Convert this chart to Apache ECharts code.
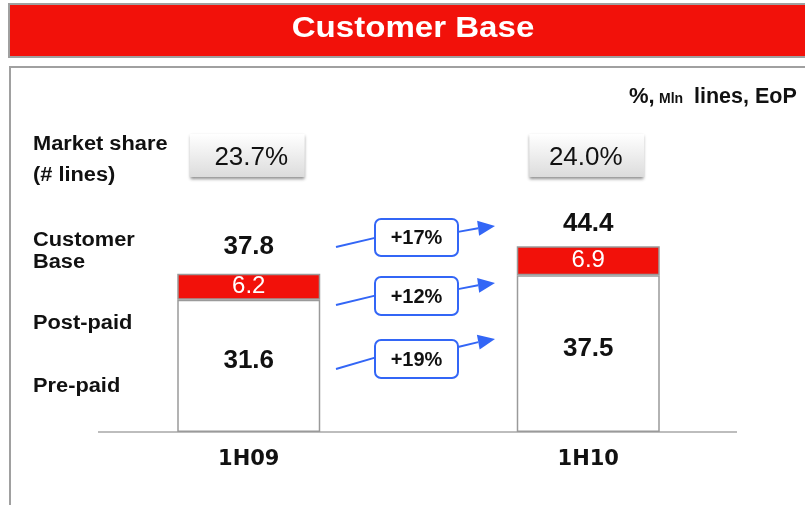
<!DOCTYPE html>
<html>
<head>
<meta charset="utf-8">
<script src="https://cdn.jsdelivr.net/npm/echarts@6/dist/echarts.min.js"></script>
<style>
  html, body { margin: 0; padding: 0; background: #fff; }
  #chart { width: 805px; height: 505px; }
</style>
</head>
<body>
<div id="chart"></div>
<script>
const categories = ["1H09", "1H10"];
const prePaid = [31.6, 37.5];
const postPaid = [6.2, 6.9];
const totals = [37.8, 44.4];
const marketShare = ["23.7%", "24.0%"];
const growth = ["+17%", "+12%", "+19%"];

const RED = "#f2110a";
const BLUE = "#3366f6";
const SANS = "'Liberation Sans', Arial, sans-serif";
const WIDE = "'DejaVu Sans', sans-serif";

const chart = echarts.init(document.getElementById("chart"));

chart.setOption({
  animation: false,
  grid: { left: 79, right: 47, top: 181, bottom: 73 },
  xAxis: {
    type: "category",
    data: categories,
    axisLine: { show: false },
    axisTick: { show: false },
    axisLabel: { fontSize: 21, fontWeight: "bold", color: "#111", fontFamily: WIDE, margin: 17 }
  },
  yAxis: { type: "value", min: 0, max: 60, show: false },
  series: [
    {
      name: "Pre-paid",
      type: "bar",
      stack: "base",
      barWidth: 143,
      data: prePaid,
      itemStyle: { color: "#fff", borderColor: "#9a9a9a", borderWidth: 1.5 },
      label: {
        show: true, position: "inside", offset: [0, -5],
        fontSize: 26, fontWeight: "bold", color: "#111", fontFamily: SANS
      },
      z: 3
    },
    {
      name: "Post-paid",
      type: "bar",
      stack: "base",
      barWidth: 143,
      data: postPaid,
      itemStyle: { color: RED, borderColor: "#9a9a9a", borderWidth: 1.5 },
      label: {
        show: true, position: "inside",
        fontSize: 24, color: "#fff", fontFamily: SANS
      },
      z: 3
    },
    {
      name: "Total",
      type: "bar",
      barWidth: 143,
      barGap: "-100%",
      silent: true,
      data: totals.map((v, i) => ({
        value: v,
        label: { distance: i === 0 ? 14 : 9 }
      })),
      itemStyle: { color: "rgba(0,0,0,0)" },
      label: {
        show: true, position: "top",
        fontSize: 26, fontWeight: "bold", color: "#111", fontFamily: SANS
      },
      z: 2
    }
  ]
});

const xs = categories.map(c => chart.convertToPixel({ xAxisIndex: 0 }, c));
const g = [];

// title banner
g.push({
  type: "rect", shape: { x: 9, y: 4, width: 810, height: 53 },
  style: { fill: RED, stroke: "#a0a0a0", lineWidth: 2 }, z: 1
});
g.push({
  type: "text", x: 413, y: 28.5, scaleX: 1.14,
  style: {
    text: "Customer Base", fill: "#fff", font: "bold 29px " + SANS,
    align: "center", verticalAlign: "middle"
  }, z: 2
});
// panel
g.push({
  type: "rect", shape: { x: 10, y: 67, width: 810, height: 460 },
  style: { fill: "none", stroke: "#a0a0a0", lineWidth: 2 }, z: 0
});
// unit note
[["%,", 629, 97, 22], ["Mln", 659, 99, 14], ["lines, EoP", 694, 97, 21.5]].forEach(([t, x, y, s]) => g.push({
  type: "text", x: x, y: y,
  style: { text: t, font: "bold " + s + "px " + SANS, fill: "#111", verticalAlign: "middle" }
}));
// row labels
const rowLabels = [
  ["Market share", 144.5], ["(# lines)", 175],
  ["Customer", 240], ["Base", 262],
  ["Post-paid", 323], ["Pre-paid", 386]
];
rowLabels.forEach(([t, y]) => g.push({
  type: "text", x: 33, y: y, scaleX: 1.09,
  style: { text: t, font: "bold 20px " + SANS, fill: "#111", verticalAlign: "middle" }
}));
// baseline
g.push({
  type: "line", shape: { x1: 98, y1: 432, x2: 737, y2: 432 },
  style: { stroke: "#bdbdbd", lineWidth: 2 }, z: 1
});
// market share boxes
const shareTextShift = [4, -1];
xs.forEach((x, i) => {
  g.push({
    type: "rect", shape: { x: x - 59, y: 134, width: 115, height: 43 },
    style: {
      fill: new echarts.graphic.LinearGradient(0, 0, 0, 1, [
        { offset: 0, color: "#ffffff" }, { offset: 1, color: "#dcdcdc" }
      ]),
      shadowColor: "rgba(0,0,0,0.45)", shadowBlur: 3, shadowOffsetY: 2
    }
  });
  g.push({
    type: "text", x: x - 1.5 + shareTextShift[i], y: 158,
    style: {
      text: marketShare[i], font: "26px " + SANS, fill: "#111",
      align: "center", verticalAlign: "middle"
    }
  });
});
// growth arrows
const arrows = [
  { y0: 247, y1: 226, top: 219, bottom: 256 },
  { y0: 305, y1: 283, top: 277, bottom: 315 },
  { y0: 369, y1: 339, top: 340, bottom: 378 }
];
arrows.forEach((a, i) => {
  const x0 = 336, x1 = 495, bl = 375, br = 458;
  const yAt = x => a.y0 + (a.y1 - a.y0) * (x - x0) / (x1 - x0);
  const ang = Math.atan2(a.y1 - yAt(br), x1 - br);
  const L = 17, W = 7.5;
  const bx = x1 - L * Math.cos(ang), by = a.y1 - L * Math.sin(ang);
  g.push({ type: "line", shape: { x1: x0, y1: a.y0, x2: bl, y2: yAt(bl) - 4 },
    style: { stroke: BLUE, lineWidth: 2 } });
  g.push({ type: "line", shape: { x1: br, y1: yAt(br) + 1, x2: bx, y2: by },
    style: { stroke: BLUE, lineWidth: 2 } });
  g.push({ type: "polygon", shape: { points: [
      [x1, a.y1],
      [bx + W * Math.sin(ang), by - W * Math.cos(ang)],
      [bx - W * Math.sin(ang), by + W * Math.cos(ang)]
    ] }, style: { fill: BLUE } });
  g.push({
    type: "rect", shape: { x: bl, y: a.top, width: br - bl, height: a.bottom - a.top, r: 6 },
    style: { fill: "#fff", stroke: BLUE, lineWidth: 2 }
  });
  g.push({
    type: "text", x: (bl + br) / 2, y: (a.top + a.bottom) / 2 + 1,
    style: { text: growth[i], font: "bold 20px " + SANS, fill: "#111", align: "center", verticalAlign: "middle" }
  });
});

chart.setOption({ graphic: g });
</script>
</body>
</html>
